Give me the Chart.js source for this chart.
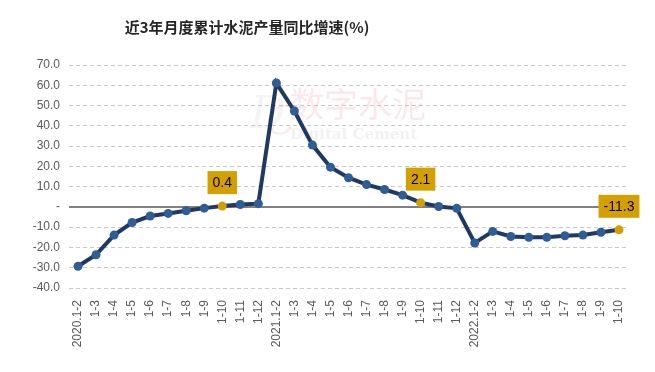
<!DOCTYPE html>
<html>
<head>
<meta charset="utf-8">
<script src="https://cdn.jsdelivr.net/npm/chart.js@4.4.0/dist/chart.umd.min.js"></script>
<style>
  html, body { margin: 0; padding: 0; background: #ffffff; }
  #wrap { width: 655px; height: 372px; }
</style>
</head>
<body>
<div id="wrap"><canvas id="myChart" width="655" height="372"></canvas></div>
<script>
// chart data
var chartTitle = "近3年月度累计水泥产量同比增速(%)";
var months = ["2020.1-2", "1-3", "1-4", "1-5", "1-6", "1-7", "1-8", "1-9", "1-10", "1-11", "1-12",
              "2021.1-2", "1-3", "1-4", "1-5", "1-6", "1-7", "1-8", "1-9", "1-10", "1-11", "1-12",
              "2022.1-2", "1-3", "1-4", "1-5", "1-6", "1-7", "1-8", "1-9", "1-10"];
var growth = [-29.3, -23.6, -13.9, -7.7, -4.5, -3.2, -1.9, -0.6, 0.4, 1.2, 1.6,
              61.1, 47.3, 30.5, 19.6, 14.4, 11.0, 8.6, 5.8, 2.1, 0.2, -0.7,
              -17.8, -12.1, -14.6, -15.0, -15.0, -14.2, -13.9, -12.5, -11.3];
var highlighted = [8, 19, 30];
var yTicks = [70, 60, 50, 40, 30, 20, 10, 0, -10, -20, -30, -40];

var navy = "#1f3864";
var dotBlue = "#2f5d95";
var gold = "#d4a000";

var pointColors = growth.map(function (v, i) {
    return highlighted.indexOf(i) > -1 ? gold : dotBlue;
});

// title + watermark + zero line + value boxes
var extras = {
    id: "extras",
    beforeDatasetsDraw: function (chart) {
        var ctx = chart.ctx;
        var area = chart.chartArea;
        ctx.save();
        ctx.fillStyle = "rgba(200,200,200,0.2)";
        ctx.font = "italic 44px 'DejaVu Serif'";
        ctx.textAlign = "left";
        ctx.textBaseline = "alphabetic";
        ctx.fillText("D", 250, 128);
        ctx.fillStyle = "rgba(225,140,150,0.18)";
        ctx.font = "italic 40px 'DejaVu Serif'";
        ctx.fillText("C", 266, 134);
        ctx.font = "34px 'Noto Sans CJK SC'";
        ctx.fillStyle = "rgba(230,140,150,0.2)";
        ctx.fillText("数字水泥", 290, 117);
        ctx.font = "bold 15px 'DejaVu Serif'";
        ctx.fillStyle = "rgba(190,190,190,0.22)";
        ctx.fillText("Digital Cement", 290, 139);

        // solid zero line
        var y0 = Math.round(chart.scales.y.getPixelForValue(0));
        ctx.strokeStyle = "#808080";
        ctx.lineWidth = 2;
        ctx.setLineDash([]);
        ctx.beginPath();
        ctx.moveTo(area.left, y0);
        ctx.lineTo(area.right, y0);
        ctx.stroke();
        ctx.restore();
    },
    afterDatasetsDraw: function (chart) {
        var ctx = chart.ctx;
        var meta = chart.getDatasetMeta(0);
        ctx.save();
        ctx.font = "14px 'Liberation Sans'";
        ctx.textAlign = "center";
        ctx.textBaseline = "middle";
        highlighted.forEach(function (i) {
            var pt = meta.data[i];
            var txt = growth[i].toFixed(1);
            var w = ctx.measureText(txt).width + 10;
            var h = 23;
            var x = pt.x - w / 2;
            var y = pt.y - 12 - h;
            ctx.fillStyle = gold;
            ctx.fillRect(x, y, w, h);
            ctx.fillStyle = "#000000";
            ctx.fillText(txt, pt.x, y + h / 2 + 1);
        });
        ctx.restore();
    },
    afterDraw: function (chart) {
        var ctx = chart.ctx;
        ctx.save();
        ctx.font = "bold 15px 'Noto Sans CJK SC'";
        ctx.fillStyle = "#262626";
        ctx.textAlign = "center";
        ctx.textBaseline = "middle";
        ctx.fillText(chartTitle, 247, 27);
        ctx.restore();
    }
};

var ctx = document.getElementById("myChart").getContext("2d");
var myChart = new Chart(ctx, {
    type: "line",
    data: {
        labels: months,
        datasets: [{
            data: growth,
            borderColor: navy,
            borderWidth: 4,
            pointBackgroundColor: pointColors,
            pointBorderColor: pointColors,
            pointRadius: 4.5,
            pointBorderWidth: 0,
            tension: 0
        }]
    },
    options: {
        responsive: false,
        animation: false,
        layout: { padding: { left: 0, right: 27, top: 65, bottom: 0 } },
        plugins: {
            legend: { display: false },
            tooltip: { enabled: false }
        },
        scales: {
            x: {
                offset: true,
                grid: { display: false },
                border: { display: false },
                ticks: {
                    color: "#595959",
                    font: { family: "'Liberation Sans'", size: 12 },
                    maxRotation: 90,
                    minRotation: 90,
                    padding: 4,
                    autoSkip: false
                },
                afterFit: function (scale) { scale.height = 84; }
            },
            y: {
                min: -40,
                max: 70,
                afterBuildTicks: function (scale) {
                    scale.ticks = yTicks.map(function (v) { return { value: v }; });
                },
                border: { display: false, dash: [4, 3] },
                grid: {
                    drawTicks: false,
                    color: function (c) { return c.tick.value === 0 ? "rgba(0,0,0,0)" : "#c8c8c8"; },
                    lineWidth: 1
                },
                ticks: {
                    color: "#595959",
                    font: { family: "'Liberation Sans'", size: 12 },
                    padding: 9,
                    callback: function (v) { return v === 0 ? "-" : v.toFixed(1); }
                },
                afterFit: function (scale) { scale.width = 69; }
            }
        }
    },
    plugins: [extras]
});
</script>
</body>
</html>
